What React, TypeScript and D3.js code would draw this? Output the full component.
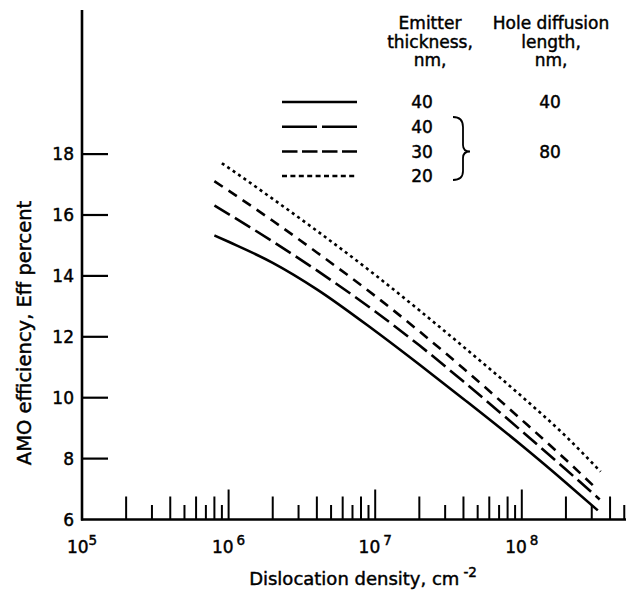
import React from "react";
import * as d3 from "d3";

// ---- data ----
const solidX = [8e5, 1e6, 2e6, 4e6, 1e7, 2e7, 4e7, 1e8, 2e8, 3.3e8];
const solidY = [15.33, 15.12, 14.43, 13.56, 12.19, 11.09, 9.96, 8.43, 7.21, 6.3];

const longDashX = [8e5, 1e6, 2e6, 4e6, 1e7, 2e7, 4e7, 1e8, 2e8, 3.4e8];
const longDashY = [16.31, 16.03, 15.13, 14.18, 12.83, 11.72, 10.53, 8.9, 7.64, 6.66];

const medDashX = [8e5, 1e6, 2e6, 4e6, 1e7, 2e7, 4e7, 1e8, 2e8, 3.3e8];
const medDashY = [17.11, 16.8, 15.81, 14.77, 13.34, 12.18, 10.96, 9.27, 7.96, 6.97];

const dottedX = [9e5, 1e6, 2e6, 4e6, 1e7, 2e7, 4e7, 1e8, 2e8, 3.45e8];
const dottedY = [17.7, 17.55, 16.53, 15.48, 14.03, 12.87, 11.67, 10.04, 8.73, 7.57];

const yTicks = [6, 8, 10, 12, 14, 16, 18];
const yTickLines = [8, 10, 12, 14, 16, 18];
const xDecades = [5, 6, 7, 8];
const emitterThickness = ["40", "40", "30", "20"];
const diffusionLabels = ["40", "80"];
const headerEmitter = ["Emitter", "thickness,", "nm,"];
const headerDiffusion = ["Hole diffusion", "length,", "nm,"];

const FONT = "'DejaVu Sans', 'Liberation Sans', Arial, sans-serif";

export default function App() {
  const W = 626;
  const H = 593;
  const x0 = 82;
  const yBase = 519.5;
  const x = d3.scaleLog().domain([1e5, 1e8]).range([x0, 521.8]);
  const y = d3.scaleLinear().domain([6, 18]).range([yBase, 154.1]);

  const series = [
    { xs: solidX, ys: solidY, dash: "none", legendDash: "none" },
    { xs: longDashX, ys: longDashY, dash: "18,6", legendDash: "35,5" },
    { xs: medDashX, ys: medDashY, dash: "10,7", legendDash: "15.5,4.5" },
    { xs: dottedX, ys: dottedY, dash: "3,3.6", legendDash: "5,3.4" },
  ];

  const line = d3
    .line<[number, number]>()
    .x((d) => x(d[0]))
    .y((d) => y(d[1]))
    .curve(d3.curveMonotoneX);

  // minor ticks on x axis
  const minorTicks: { v: number; h: number }[] = [];
  for (let e = 5; e <= 8; e++) {
    for (let m = 1; m <= 9; m++) {
      const v = m * Math.pow(10, e);
      if (v <= 1e5) continue;
      if (v > 5.1e8) continue;
      const h = m === 1 ? 30 : m % 2 === 0 ? 23 : 14.5;
      minorTicks.push({ v, h });
    }
  }

  const legendRowsY = [108, 132.7, 157.5, 182];
  const textStyle = { stroke: "#000", strokeWidth: 0.45 };

  return (
    <svg
      width={W}
      height={H}
      style={{ position: "absolute", left: 0, top: 0, background: "#fff" }}
      fontFamily={FONT}
    >
      <rect x={0} y={0} width={W} height={H} fill="#fff" />
      {/* axes */}
      <line x1={x0} y1={10} x2={x0} y2={yBase + 1} stroke="#000" strokeWidth={2.6} />
      <line x1={x0 - 1} y1={yBase} x2={W} y2={yBase} stroke="#000" strokeWidth={2.4} />
      {yTickLines.map((t) => (
        <line key={t} x1={x0} x2={x0 + 26} y1={y(t)} y2={y(t)} stroke="#000" strokeWidth={2.2} />
      ))}
      <g style={textStyle}>
        {yTicks.map((t) => (
          <text key={t} x={74} y={y(t) + 6.2} textAnchor="end" fontSize={17}>
            {t}
          </text>
        ))}
        {xDecades.map((e) => (
          <text key={e} x={x(Math.pow(10, e))} y={553} textAnchor="middle" fontSize={17}>
            <tspan>10</tspan>
            <tspan dy={-8} fontSize={13.5} dx={e === 5 ? 0 : 3}>
              {e}
            </tspan>
          </text>
        ))}
        <text x={363} y={585} textAnchor="middle" fontSize={18}>
          <tspan>Dislocation density, cm</tspan>
          <tspan dx={4} dy={-8} fontSize={13.5}>
            -2
          </tspan>
        </text>
        <text transform={`translate(31, 333) rotate(-90)`} textAnchor="middle" fontSize={19.5}>
          AMO efficiency, Eff percent
        </text>
      </g>
      {minorTicks.map((t, i) => (
        <line
          key={i}
          x1={x(t.v)}
          x2={x(t.v)}
          y1={yBase}
          y2={yBase - t.h}
          stroke="#000"
          strokeWidth={2}
        />
      ))}

      {/* curves */}
      {series.map((s, i) => (
        <path
          key={i}
          d={line(s.xs.map((v, j) => [v, s.ys[j]] as [number, number])) || ""}
          fill="none"
          stroke="#000"
          strokeWidth={2.6}
          strokeDasharray={s.dash}
        />
      ))}

      {/* legend */}
      <g style={textStyle}>
        {headerEmitter.map((t, i) => (
          <text key={"e" + i} x={430} y={29 + i * 18.5} textAnchor="middle" fontSize={17}>
            {t}
          </text>
        ))}
        {headerDiffusion.map((t, i) => (
          <text key={"h" + i} x={551} y={29 + i * 18.5} textAnchor="middle" fontSize={17}>
            {t}
          </text>
        ))}
        {emitterThickness.map((t, i) => (
          <text key={"n" + i} x={422} y={legendRowsY[i]} textAnchor="middle" fontSize={17}>
            {t}
          </text>
        ))}
        <text x={550} y={legendRowsY[0]} textAnchor="middle" fontSize={17}>
          {diffusionLabels[0]}
        </text>
        <text x={550} y={legendRowsY[2]} textAnchor="middle" fontSize={17}>
          {diffusionLabels[1]}
        </text>
      </g>
      {series.map((s, i) => (
        <line
          key={"l" + i}
          x1={282}
          x2={357}
          y1={legendRowsY[i] - 6}
          y2={legendRowsY[i] - 6}
          stroke="#000"
          strokeWidth={2.6}
          strokeDasharray={s.legendDash}
        />
      ))}
      <path
        d="M453,117 Q463,117 463,127 L463,145 Q463,151.5 470,151.5 Q463,151.5 463,158 L463,171 Q463,180 453,180"
        fill="none"
        stroke="#000"
        strokeWidth={1.8}
      />
    </svg>
  );
}
